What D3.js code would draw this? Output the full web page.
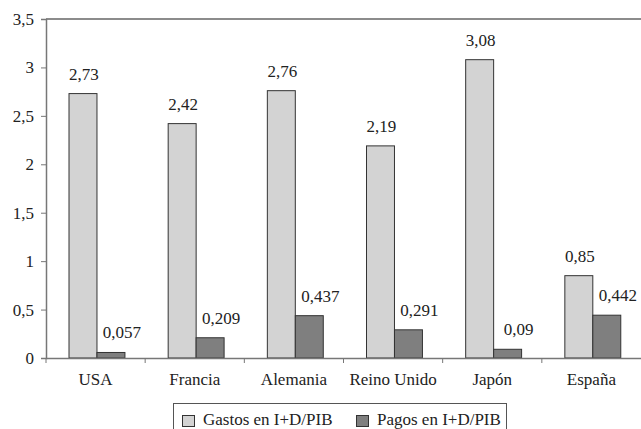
<!DOCTYPE html>
<html><head><meta charset="utf-8">
<script src="https://cdn.jsdelivr.net/npm/d3@7"></script>
</head><body style="margin:0;background:#fff"><svg id="c" width="641" height="429" style="display:block" font-family="Liberation Serif"></svg>
<script>
const categories = ["USA","Francia","Alemania","Reino Unido","Japón","España"];
const gastos = [2.73, 2.42, 2.76, 2.19, 3.08, 0.85];
const pagos = [0.057, 0.209, 0.437, 0.291, 0.09, 0.442];
const gastosLabels = ["2,73","2,42","2,76","2,19","3,08","0,85"];
const pagosLabels = ["0,057","0,209","0,437","0,291","0,09","0,442"];
const yTicks = [0,0.5,1,1.5,2,2.5,3,3.5];
const seriesNames = ["Gastos en I+D/PIB","Pagos en I+D/PIB"];

const FONT = "Liberation Serif";
const svg = d3.select("#c");
const L = 46, R = 641, T = 19, B = 358;
const x = d3.scaleBand().domain(categories).range([L, R]);
const y = d3.scaleLinear().domain([0, 3.5]).range([B, T]);
const step = x.step(), bw = step * 0.282, off = step * 0.232;
const fs = 17;
function txt(sel) { return sel.attr("font-family", FONT).attr("font-size", fs).attr("fill", "#222"); }

svg.append("line").attr("x1", L).attr("x2", R).attr("y1", T).attr("y2", T).attr("stroke", "#666").attr("stroke-width", 1.5);

const ya = svg.append("g").attr("transform", `translate(${L},0)`)
  .call(d3.axisLeft(y).tickValues(yTicks).tickSize(5).tickPadding(7).tickFormat(d => d3.format("")(d).replace(".", ",")));
ya.attr("font-family", FONT).attr("font-size", fs);
ya.select(".domain").attr("stroke", "#777").attr("stroke-width", 1.5);
ya.selectAll(".tick line").attr("stroke", "#777");
txt(ya.selectAll("text"));

const g = svg.append("g");
categories.forEach((c, i) => {
  const x0 = x(c) + off;
  g.append("rect").attr("x", x0).attr("y", y(gastos[i])).attr("width", bw).attr("height", y(0) - y(gastos[i]))
    .attr("fill", "#d3d3d3").attr("stroke", "#333").attr("stroke-width", 1);
  g.append("rect").attr("x", x0 + bw).attr("y", y(pagos[i])).attr("width", bw).attr("height", y(0) - y(pagos[i]))
    .attr("fill", "#7f7f7f").attr("stroke", "#333").attr("stroke-width", 1);
  txt(g.append("text").attr("x", x0 + bw / 2 + 1).attr("y", y(gastos[i]) - 14).attr("text-anchor", "middle").text(gastosLabels[i]));
  txt(g.append("text").attr("x", x0 + bw * 1.5 + 11).attr("y", y(pagos[i]) - 14).attr("text-anchor", "middle").text(pagosLabels[i]));
});

const xa = svg.append("g").attr("transform", `translate(0,${B})`)
  .call(d3.axisBottom(x).tickSize(0).tickPadding(15));
xa.attr("font-family", FONT).attr("font-size", fs);
xa.select(".domain").attr("stroke", "#777").attr("stroke-width", 1.5);
txt(xa.selectAll("text"));
const bounds = categories.map(c => x(c));
svg.append("g").selectAll("line").data(bounds).join("line")
  .attr("x1", d => d).attr("x2", d => d).attr("y1", B).attr("y2", B + 5).attr("stroke", "#777");

svg.append("rect").attr("x", 173.5).attr("y", 403.5).attr("width", 333).attr("height", 40).attr("fill", "none").attr("stroke", "#555");
const leg = [{x: 182, fill: "#d3d3d3"}, {x: 356, fill: "#7f7f7f"}];
leg.forEach((l, i) => {
  svg.append("rect").attr("x", l.x + 0.5).attr("y", 415.5).attr("width", 12).attr("height", 11).attr("fill", l.fill).attr("stroke", "#333");
  txt(svg.append("text").attr("x", l.x + 21).attr("y", 425).text(seriesNames[i]));
});
</script></body></html>
